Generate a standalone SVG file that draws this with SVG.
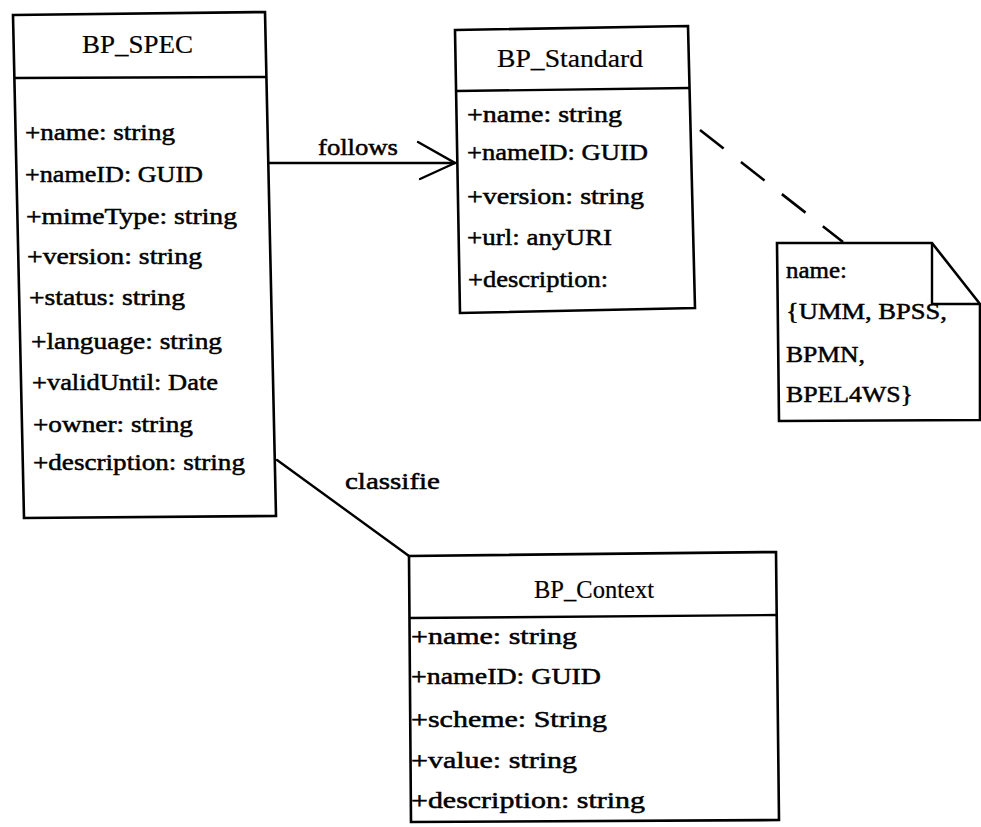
<svg xmlns="http://www.w3.org/2000/svg" width="981" height="827" viewBox="0 0 981 827">
<style>
  .box { fill: #fff; stroke: #000; stroke-width: 2.6; stroke-linejoin: miter; }
  .div { fill: none; stroke: #000; stroke-width: 2.4; }
  .ln { fill: none; stroke: #000; stroke-width: 2.4; stroke-linecap: round; }
  .dash { fill: none; stroke: #000; stroke-width: 2.6; stroke-dasharray: 30 22; }
  .t { font-family: "Liberation Serif", "Times New Roman", serif; font-size: 24px; fill: #000; stroke: #000; stroke-width: 0.5; }
  .h { font-family: "Liberation Serif", "Times New Roman", serif; font-size: 26px; fill: #000; text-anchor: middle; stroke: #000; stroke-width: 0.2; }
</style>
<rect x="0" y="0" width="981" height="827" fill="#fff"/>

<g id="connectors">
  <g id="follows">
    <line class="ln" x1="268" y1="163" x2="455" y2="163"/>
    <polyline class="ln" points="418,142 455,163 420,179"/>
    <text class="t" x="318" y="155" textLength="80" lengthAdjust="spacingAndGlyphs">follows</text>
  </g>
  <g id="classifie">
    <line class="ln" x1="277" y1="460" x2="409" y2="556"/>
    <text class="t" x="345" y="489" textLength="95" lengthAdjust="spacingAndGlyphs">classifie</text>
  </g>
  <g id="note-link">
    <line class="dash" x1="700" y1="130" x2="843" y2="242"/>
  </g>
</g>

<g id="BP_SPEC">
  <polygon class="box" points="13,15 265,12 276,516 24,518"/>
  <line class="div" x1="14" y1="78" x2="266" y2="77"/>
  <text class="h" x="137.5" y="53" textLength="111" lengthAdjust="spacingAndGlyphs">BP_SPEC</text>
  <text class="t" x="25" y="140" textLength="150" lengthAdjust="spacingAndGlyphs">+name: string</text>
  <text class="t" x="25" y="182" textLength="178" lengthAdjust="spacingAndGlyphs">+nameID: GUID</text>
  <text class="t" x="26" y="224" textLength="211" lengthAdjust="spacingAndGlyphs">+mimeType: string</text>
  <text class="t" x="27" y="264" textLength="175" lengthAdjust="spacingAndGlyphs">+version: string</text>
  <text class="t" x="29" y="305" textLength="156" lengthAdjust="spacingAndGlyphs">+status: string</text>
  <text class="t" x="31" y="349" textLength="191" lengthAdjust="spacingAndGlyphs">+language: string</text>
  <text class="t" x="32" y="390" textLength="186" lengthAdjust="spacingAndGlyphs">+validUntil: Date</text>
  <text class="t" x="33" y="432" textLength="160" lengthAdjust="spacingAndGlyphs">+owner: string</text>
  <text class="t" x="33" y="470" textLength="212" lengthAdjust="spacingAndGlyphs">+description: string</text>
</g>

<g id="BP_Standard">
  <polygon class="box" points="455,30 688,26 695,308 460,313"/>
  <line class="div" x1="456" y1="91" x2="689" y2="88"/>
  <text class="h" x="570" y="67" textLength="146" lengthAdjust="spacingAndGlyphs">BP_Standard</text>
  <text class="t" x="467" y="122" textLength="155" lengthAdjust="spacingAndGlyphs">+name: string</text>
  <text class="t" x="467" y="160" textLength="181" lengthAdjust="spacingAndGlyphs">+nameID: GUID</text>
  <text class="t" x="467" y="204" textLength="177" lengthAdjust="spacingAndGlyphs">+version: string</text>
  <text class="t" x="467" y="245" textLength="145" lengthAdjust="spacingAndGlyphs">+url: anyURI</text>
  <text class="t" x="468" y="287" textLength="140" lengthAdjust="spacingAndGlyphs">+description:</text>
</g>

<g id="note">
  <polygon class="box" points="777,243 932,243 980,304 980,420 779,421"/>
  <polyline class="div" points="932,243 932,304 980,304"/>
  <text class="t" x="786" y="278" textLength="61" lengthAdjust="spacingAndGlyphs">name:</text>
  <text class="t" x="786" y="319" textLength="161" lengthAdjust="spacingAndGlyphs">{UMM, BPSS,</text>
  <text class="t" x="786" y="362" textLength="79" lengthAdjust="spacingAndGlyphs">BPMN,</text>
  <text class="t" x="786" y="402" textLength="127" lengthAdjust="spacingAndGlyphs">BPEL4WS}</text>
</g>

<g id="BP_Context">
  <polygon class="box" points="409,556 776,552 779,820 411,822"/>
  <line class="div" x1="409" y1="618" x2="777" y2="615"/>
  <text class="h" x="594" y="598" textLength="120" lengthAdjust="spacingAndGlyphs">BP_Context</text>
  <text class="t" x="411" y="644" textLength="166" lengthAdjust="spacingAndGlyphs">+name: string</text>
  <text class="t" x="411" y="684" textLength="190" lengthAdjust="spacingAndGlyphs">+nameID: GUID</text>
  <text class="t" x="411" y="727" textLength="196" lengthAdjust="spacingAndGlyphs">+scheme: String</text>
  <text class="t" x="411" y="768" textLength="166" lengthAdjust="spacingAndGlyphs">+value: string</text>
  <text class="t" x="411" y="808" textLength="234" lengthAdjust="spacingAndGlyphs">+description: string</text>
</g>
</svg>
